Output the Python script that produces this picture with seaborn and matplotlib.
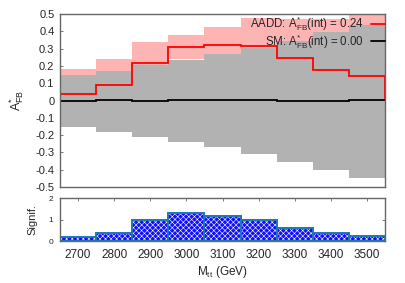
import numpy as np
import matplotlib
matplotlib.use("Agg")
import matplotlib.pyplot as plt
from matplotlib.lines import Line2D
import seaborn as sns

# ---- data ----
bin_edges = [2650, 2750, 2850, 2950, 3050, 3150, 3250, 3350, 3450, 3550]
bin_centers = [2700, 2800, 2900, 3000, 3100, 3200, 3300, 3400, 3500]
aadd_afb = [0.040, 0.089, 0.216, 0.312, 0.324, 0.318, 0.245, 0.177, 0.141]
aadd_upper = [0.181, 0.240, 0.341, 0.382, 0.428, 0.480, 0.470, 0.470, 0.560]
aadd_lower = [-0.100, -0.060, 0.090, 0.240, 0.220, 0.160, 0.020, -0.120, -0.280]
sm_afb = [0.000, 0.001, 0.000, 0.001, 0.002, 0.001, 0.000, -0.003, 0.001]
sm_upper = [0.148, 0.171, 0.207, 0.232, 0.268, 0.307, 0.347, 0.395, 0.440]
sm_lower = [-0.155, -0.180, -0.210, -0.238, -0.267, -0.310, -0.355, -0.404, -0.450]
signif = [0.19, 0.40, 0.96, 1.33, 1.17, 1.00, 0.61, 0.38, 0.25]
x_ticks = [2700, 2800, 2900, 3000, 3100, 3200, 3300, 3400, 3500]
y_ticks_top = [-0.5, -0.4, -0.3, -0.2, -0.1, 0, 0.1, 0.2, 0.3, 0.4, 0.5]
y_ticklabels_top = ["-0.5", "-0.4", "-0.3", "-0.2", "-0.1", "0",
                    "0.1", "0.2", "0.3", "0.4", "0.5"]
y_ticks_bot = [0, 1, 2]
legend_labels = [r"AADD: A$^{*}_{\rm FB}$(int) = 0.24",
                 r"SM: A$^{*}_{\rm FB}$(int) = 0.00"]

# ---- style ----
sns.set_style("ticks")
plt.rcParams["font.family"] = ["Liberation Sans", "DejaVu Sans"]
plt.rcParams["mathtext.fontset"] = "custom"
plt.rcParams["mathtext.rm"] = "Liberation Sans"
plt.rcParams["mathtext.it"] = "Liberation Sans:italic"
plt.rcParams["axes.unicode_minus"] = False
plt.rcParams["hatch.linewidth"] = 0.4

frame_col = "#666666"
pink = "#ffb4b4"
gray = "#b2b2b2"

fig = plt.figure(figsize=(4.05, 2.83), dpi=100)
ax1 = fig.add_axes([0.148, 0.339, 0.803, 0.611])
ax2 = fig.add_axes([0.148, 0.148, 0.803, 0.152])

# ---- top panel ----
ax1.stairs(aadd_upper, bin_edges, baseline=aadd_lower, fill=True,
           color=pink, linewidth=0, zorder=1)
ax1.stairs(sm_upper, bin_edges, baseline=sm_lower, fill=True,
           color=gray, linewidth=0, zorder=1.1)
ax1.stairs(aadd_afb, bin_edges, baseline=0, color="red", linewidth=1.3,
           zorder=3)
ax1.stairs(sm_afb, bin_edges, baseline=0, color="black", linewidth=1.3,
           zorder=3.1)
ax1.set_axisbelow(True)
ax1.set_xlim(2650, 3550)
ax1.set_ylim(-0.5, 0.5)
ax1.set_yticks(y_ticks_top)
ax1.set_yticklabels(y_ticklabels_top)
ax1.set_xticks([])
ax1.tick_params(axis="y", direction="in", length=2.5, width=0.6,
                color=frame_col, labelsize=8, pad=4, right=True)
ax1.set_ylabel(r"A$^{*}_{\rm FB}$", fontsize=9, labelpad=7)
for s in ax1.spines.values():
    s.set_color(frame_col)
    s.set_linewidth(1.0)
    s.set_visible(True)
    s.set_zorder(4)

h = [Line2D([], [], color="red", lw=1.3), Line2D([], [], color="black", lw=1.3)]
leg = ax1.legend(h, legend_labels, loc="upper right", frameon=False,
                 markerfirst=False, fontsize=8.3, handlelength=1.2,
                 handletextpad=0.6, borderaxespad=0.0, labelspacing=-0.1,
                 borderpad=0.05)
for t in leg.get_texts():
    t.set_ha("right")

# ---- bottom panel ----
sns.histplot(x=bin_centers, weights=signif, bins=bin_edges, element="bars",
             fill=True, color="#1010ff", alpha=1, edgecolor="white",
             linewidth=0, hatch="xxxxxx", ax=ax2, zorder=1)
sns.histplot(x=bin_centers, weights=signif, bins=bin_edges, element="bars",
             fill=False, edgecolor="#0000ff", linewidth=1.4, ax=ax2, zorder=2)
ax2.set_xlim(2650, 3550)
ax2.set_ylim(0, 2)
ax2.set_yticks(y_ticks_bot)
ax2.set_xticks(x_ticks)
ax2.tick_params(axis="both", direction="in", length=2.5, width=0.6,
                color=frame_col, top=True, right=True)
ax2.tick_params(axis="y", labelsize=6, pad=5)
ax2.tick_params(axis="x", labelsize=8.5, pad=6)
ax2.set_ylabel("Signif.", fontsize=8, labelpad=8)
ax2.set_xlabel(r"M$_{\rm tt}$ (GeV)", fontsize=8.5, labelpad=2)
for s in ax2.spines.values():
    s.set_color(frame_col)
    s.set_linewidth(1.0)
    s.set_visible(True)
    s.set_zorder(4)

fig.savefig("out.png", dpi=100)
